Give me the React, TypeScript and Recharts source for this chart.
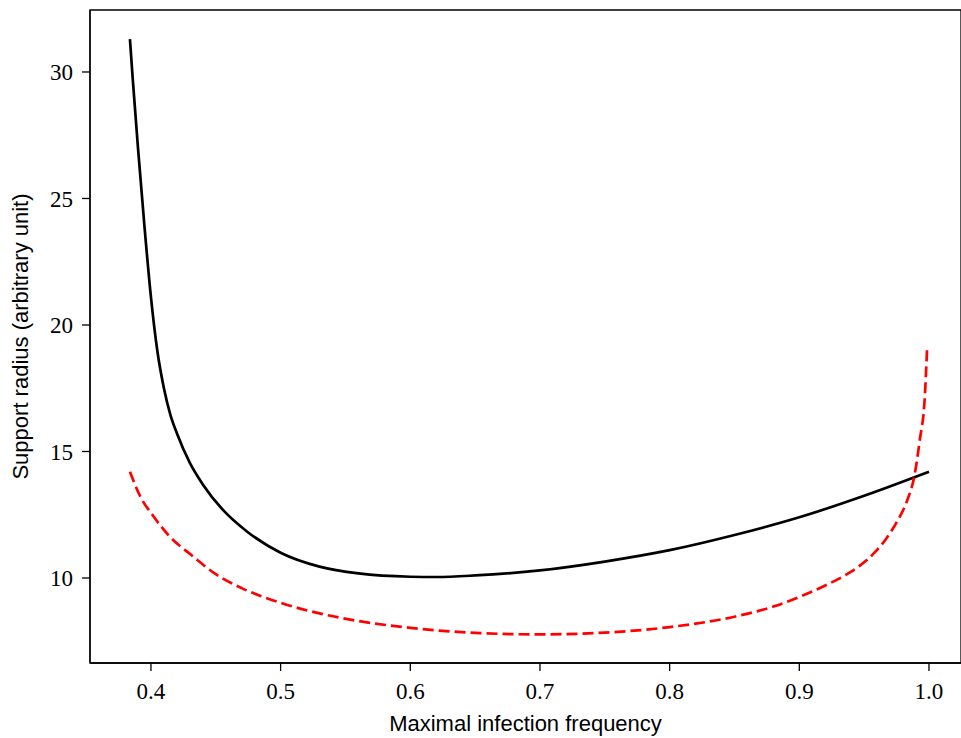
import { LineChart, Line, XAxis, YAxis, ReferenceArea, Label } from "recharts";

const blackX = [0.3838, 0.386, 0.39, 0.395, 0.4, 0.405, 0.41, 0.415, 0.42, 0.43, 0.44, 0.455, 0.475, 0.5, 0.53, 0.56, 0.6, 0.62, 0.65, 0.7, 0.75, 0.8, 0.85, 0.9, 0.95, 1.0];
const blackY = [31.3, 29.7, 27.0, 23.9, 21.1, 18.95, 17.5, 16.45, 15.72, 14.55, 13.7, 12.72, 11.8, 11.0, 10.45, 10.18, 10.05, 10.04, 10.1, 10.3, 10.65, 11.1, 11.7, 12.4, 13.25, 14.2];

const redX = [0.3838, 0.3915, 0.4018, 0.4146, 0.4314, 0.45, 0.47, 0.5, 0.53, 0.56, 0.6, 0.65, 0.7, 0.75, 0.8, 0.85, 0.88, 0.9, 0.92, 0.935, 0.947, 0.958, 0.967, 0.975, 0.9827, 0.989, 0.9929, 0.9968, 0.9986];
const redY = [14.2, 13.25, 12.45, 11.63, 10.9, 10.15, 9.6, 9.02, 8.6, 8.3, 8.03, 7.83, 7.77, 7.84, 8.06, 8.47, 8.87, 9.25, 9.7, 10.1, 10.5, 11.0, 11.55, 12.2, 13.0, 14.1, 15.45, 17.17, 19.14];

const xTicks = [0.4, 0.5, 0.6, 0.7, 0.8, 0.9, 1.0];
const yTicks = [10, 15, 20, 25, 30];

const blackData = blackX.map((x, i) => ({ x, y: blackY[i] }));
const redData = redX.map((x, i) => ({ x, y: redY[i] }));

const X_MIN = 0.353;
const X_MAX = 1.0247;
const Y_MIN = 6.64;
const Y_MAX = 32.45;

const tickStyle = { fontFamily: "'Liberation Serif', serif", fontSize: 23, fill: "#000" };

export default function App() {
  return (
    <div style={{ position: "absolute", left: 0, top: 0, background: "#fff" }}>
      <LineChart width={961} height={738} margin={{ top: 10, right: 0, left: 0, bottom: 0 }}>
        <XAxis
          type="number"
          dataKey="x"
          domain={[X_MIN, X_MAX]}
          ticks={xTicks}
          allowDataOverflow
          tickFormatter={(v: number) => v.toFixed(1)}
          height={75}
          tickSize={8}
          tickMargin={12}
          tick={tickStyle}
          stroke="#000"
          strokeWidth={1.3}
        >
          <Label
            value="Maximal infection frequency"
            position="insideBottom"
            offset={7}
            style={{ fontFamily: "'Liberation Sans', Arial, sans-serif", fontSize: 22, fill: "#000" }}
          />
        </XAxis>
        <YAxis
          type="number"
          domain={[Y_MIN, Y_MAX]}
          ticks={yTicks}
          allowDataOverflow
          width={90}
          tickSize={8}
          tickMargin={9}
          tick={tickStyle}
          stroke="#000"
          strokeWidth={1.3}
        >
          <Label
            value="Support radius (arbitrary unit)"
            angle={-90}
            position="center"
            dx={-25}
            style={{ fontFamily: "'Liberation Sans', Arial, sans-serif", fontSize: 22, fill: "#000", textAnchor: "middle" }}
          />
        </YAxis>
        <ReferenceArea
          x1={X_MIN}
          x2={X_MAX}
          y1={Y_MIN}
          y2={Y_MAX}
          fill="none"
          stroke="#000"
          strokeWidth={1.3}
          ifOverflow="visible"
        />
        <Line
          data={blackData}
          dataKey="y"
          type="monotone"
          stroke="#000"
          strokeWidth={2.7}
          dot={false}
          isAnimationActive={false}
        />
        <Line
          data={redData}
          dataKey="y"
          type="monotone"
          stroke="#ff0000"
          strokeWidth={2.7}
          strokeDasharray="11 5"
          dot={false}
          isAnimationActive={false}
        />
      </LineChart>
    </div>
  );
}
